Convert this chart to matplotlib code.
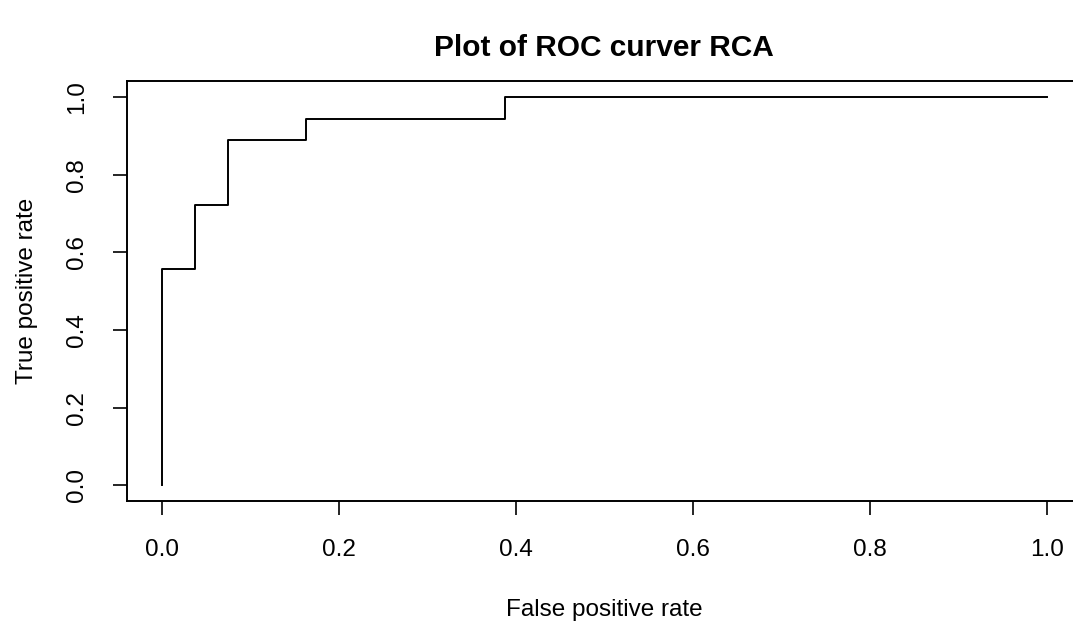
import matplotlib
matplotlib.use("Agg")
import matplotlib.pyplot as plt

# ROC curve corners (false positive rate, true positive rate)
fpr = [0.0, 0.0, 0.037, 0.037, 0.074, 0.074, 0.162, 0.162, 0.388, 0.388, 1.0]
tpr = [0.0, 0.556, 0.556, 0.722, 0.722, 0.889, 0.889, 0.944, 0.944, 1.0, 1.0]

ticks = [0.0, 0.2, 0.4, 0.6, 0.8, 1.0]
tick_labels = ["0.0", "0.2", "0.4", "0.6", "0.8", "1.0"]

plt.rcParams["font.family"] = ["Liberation Sans", "DejaVu Sans"]

fig = plt.figure(figsize=(10.73, 6.23), dpi=100)
# axes box runs a little past the right edge, as in the cropped original
ax = fig.add_axes([0.1184, 0.1958, 0.89, 0.6734])

ax.plot(fpr, tpr, color="black", linewidth=1.4)

ax.set_xlim(-0.04, 1.04)
ax.set_ylim(-0.04, 1.04)
ax.set_xticks(ticks)
ax.set_xticklabels(tick_labels)
ax.set_yticks(ticks)
ax.set_yticklabels(tick_labels, rotation=90, va="center")
ax.tick_params(axis="both", direction="out", length=10, width=1.2,
               labelsize=17.5, colors="black")
ax.tick_params(axis="x", pad=17)
ax.tick_params(axis="y", pad=18)
for s in ax.spines.values():
    s.set_linewidth(1.4)

ax.set_xlabel("False positive rate", fontsize=17.5, labelpad=28)
ax.set_ylabel("True positive rate", fontsize=17.5, labelpad=20)
fig.text(0.5625, 0.923, "Plot of ROC curver RCA", ha="center", va="center",
         fontsize=21.5, fontweight="bold")

fig.savefig("out.png", dpi=100)
